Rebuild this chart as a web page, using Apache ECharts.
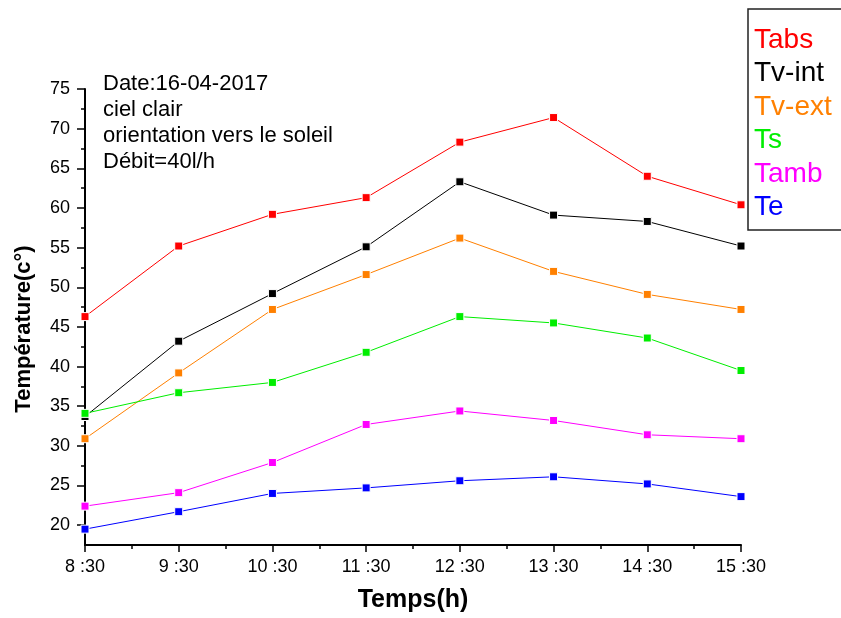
<!DOCTYPE html>
<html>
<head>
<meta charset="utf-8">
<script src="https://cdn.jsdelivr.net/npm/echarts@6/dist/echarts.min.js"></script>
<style>
html,body{margin:0;padding:0;background:#fff;overflow:hidden;}
#chart{width:841px;height:618px;}
</style>
</head>
<body>
<div id="chart"></div>
<script>
// ---- data ----
var times = ['8 :30', '9 :30', '10 :30', '11 :30', '12 :30', '13 :30', '14 :30', '15 :30'];
var seriesNames = ['Tabs', 'Tv-int', 'Tv-ext', 'Ts', 'Tamb', 'Te'];
var Tabs  = [46.3, 55.2, 59.2, 61.3, 68.3, 71.4, 64.0, 60.4];
var TvInt = [33.7, 43.2, 49.2, 55.1, 63.3, 59.1, 58.3, 55.2];
var TvExt = [30.9, 39.2, 47.2, 51.6, 56.2, 52.0, 49.1, 47.2];
var Ts    = [34.1, 36.7, 38.0, 41.8, 46.3, 45.5, 43.6, 39.5];
var Tamb  = [22.4, 24.1, 27.9, 32.7, 34.4, 33.2, 31.4, 30.9];
var Te    = [19.5, 21.7, 24.0, 24.7, 25.6, 26.1, 25.2, 23.6];
var majorY = [20, 25, 30, 35, 40, 45, 50, 55, 60, 65, 70, 75];
var minorY = [22.5, 27.5, 32.5, 37.5, 42.5, 47.5, 52.5, 57.5, 62.5, 67.5, 72.5];
var noteLines = ['Date:16-04-2017', 'ciel clair', 'orientation vers le soleil', 'Débit=40l/h'];

var colors = ['#ff0000', '#000000', '#ff8000', '#00ee00', '#ff00ff', '#0000ff'];
var values = [Tabs, TvInt, TvExt, Ts, Tamb, Te];
var FONT = 'Liberation Sans, Arial, sans-serif';

function pairs(arr){ return arr.map(function(v,i){ return [i, v]; }); }

var series = seriesNames.map(function(name, k){
  return {
    name: name, type: 'line', data: pairs(values[k]),
    symbol: 'rect', symbolSize: 8,
    lineStyle: {color: colors[k], width: 1},
    itemStyle: {color: colors[k], borderColor: '#fff', borderWidth: 1},
    emphasis: {disabled: true},
    animation: false, z: 3
  };
});

var chart = echarts.init(document.getElementById('chart'), null, {renderer: 'canvas'});
chart.setOption({
  backgroundColor: '#fff',
  animation: false,
  grid: {left: 85, right: 100, top: 89, bottom: 72, containLabel: false},
  legend: {
    orient: 'vertical', left: 748, top: 9,
    padding: [17, 120, 8.5, 0],
    itemWidth: 0, itemHeight: 0, itemGap: 5.5,
    borderWidth: 1.5, borderColor: '#222', backgroundColor: 'transparent',
    selectedMode: false,
    data: seriesNames.map(function(n, k){
      return {name: n, icon: 'rect', textStyle: {color: colors[k]}};
    }),
    textStyle: {fontFamily: FONT, fontSize: 28, lineHeight: 28}
  },
  xAxis: {
    type: 'value', min: 0, max: 7, interval: 1,
    name: 'Temps(h)', nameLocation: 'middle', nameGap: 43,
    nameTextStyle: {fontFamily: FONT, fontSize: 25, fontWeight: 'bold', color: '#000'},
    axisLine: {lineStyle: {color: '#000', width: 2}},
    axisTick: {show: true, length: 7, lineStyle: {color: '#000', width: 1.5}},
    minorTick: {show: true, splitNumber: 2, length: 4, lineStyle: {color: '#000', width: 1.5}},
    splitLine: {show: false},
    axisLabel: {
      margin: 13, fontFamily: FONT, fontSize: 18, color: '#000',
      formatter: function(v){ return times[v] || ''; }
    }
  },
  yAxis: [{
    type: 'value', min: 17.5, max: 75,
    name: 'Température(c°)', nameLocation: 'middle', nameGap: 50,
    nameTextStyle: {fontFamily: FONT, fontSize: 22, fontWeight: 'bold', color: '#000', padding: [0, 24, 0, 0]},
    axisLine: {show: true, lineStyle: {color: '#000', width: 2}},
    axisTick: {show: true, length: 8, customValues: majorY, lineStyle: {color: '#000', width: 1.5}},
    splitLine: {show: false},
    axisLabel: {margin: 15, fontFamily: FONT, fontSize: 18, color: '#000', customValues: majorY}
  }, {
    type: 'value', min: 17.5, max: 75, position: 'left',
    axisLine: {show: false},
    axisTick: {show: true, length: 4, customValues: minorY, lineStyle: {color: '#000', width: 1.5}},
    axisLabel: {show: false},
    splitLine: {show: false}
  }],
  graphic: [
    {
      type: 'text', left: 103, top: 71, z: 10, silent: true,
      style: {
        text: noteLines.join('\n'),
        font: '22px ' + FONT, lineHeight: 26, fill: '#000'
      }
    }
  ],
  series: series
});
</script>
</body>
</html>
